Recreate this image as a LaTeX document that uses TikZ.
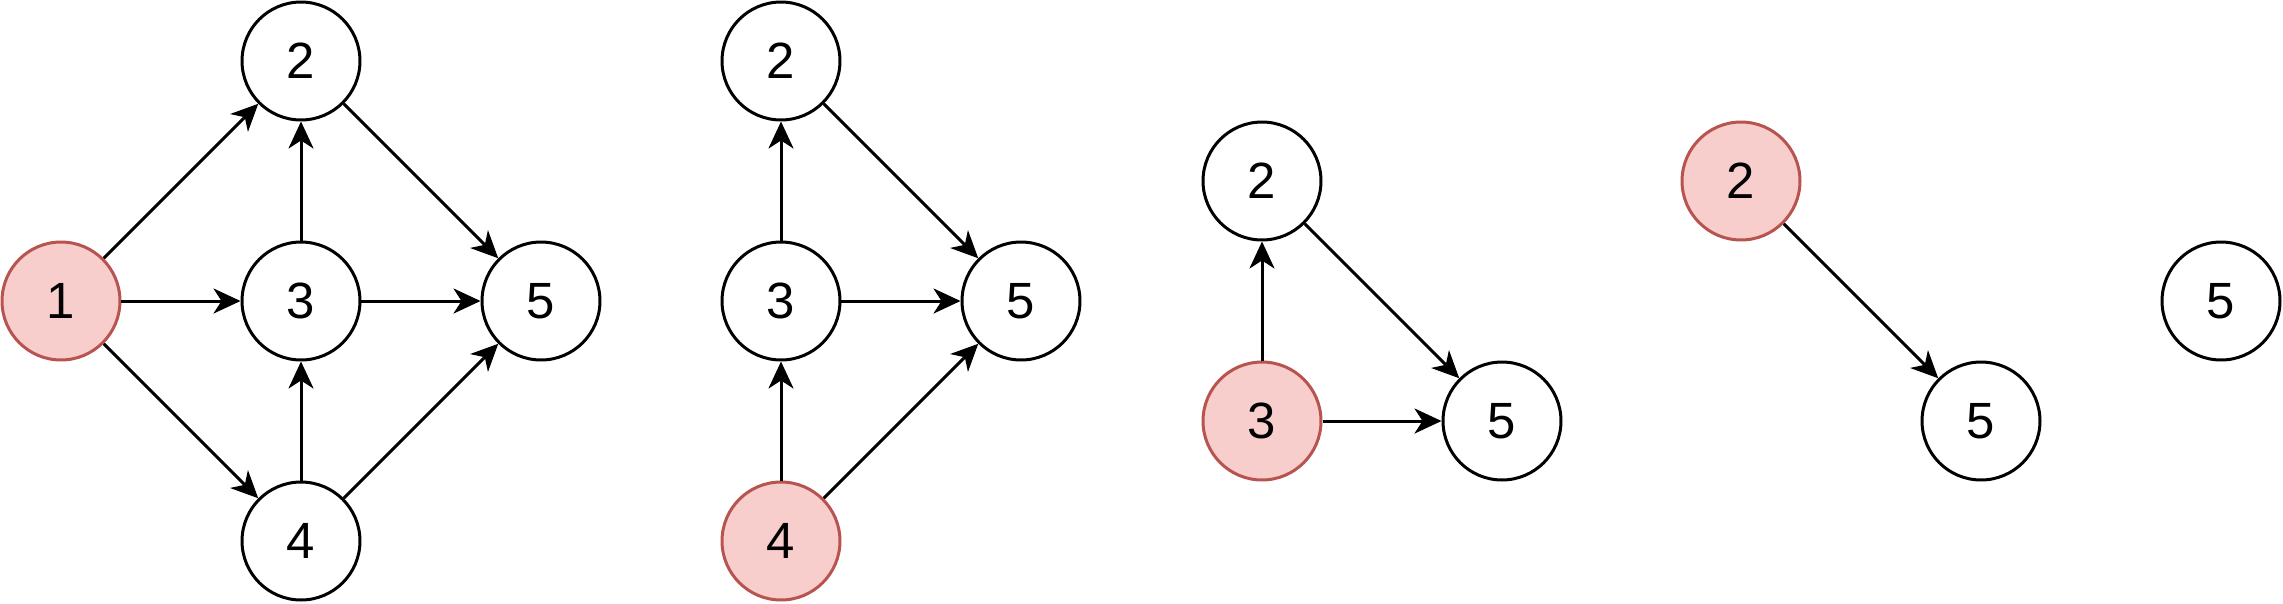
\documentclass[tikz,border=0pt]{standalone}
\usepackage{fontspec}
\setmainfont{Liberation Sans}
\usetikzlibrary{arrows.meta}
\definecolor{redfill}{HTML}{F8CECC}
\definecolor{reddraw}{HTML}{B85450}
\tikzset{
  vert/.style={circle, draw=black, fill=white, line width=0.06cm, minimum size=2.36cm, inner sep=0pt, font=\fontsize{29}{32}\selectfont},
  hot/.style={vert, draw=reddraw, fill=redfill},
  edge/.style={line width=0.06cm, -{Stealth[length=0.54cm, width=0.5cm, inset=0.16cm]}}
}
\begin{document}
\begin{tikzpicture}[x=0.02cm, y=-0.02cm]
\useasboundingbox (0,0) rectangle (2283,603);
% graph A
\node[hot]  (a1) at (61,301) {1};
\node[vert] (a2) at (301,61) {2};
\node[vert] (a3) at (301,301) {3};
\node[vert] (a4) at (301,541) {4};
\node[vert] (a5) at (541,301) {5};
\draw[edge] (a1) -- (a2);
\draw[edge] (a1) -- (a3);
\draw[edge] (a1) -- (a4);
\draw[edge] (a3) -- (a2);
\draw[edge] (a4) -- (a3);
\draw[edge] (a2) -- (a5);
\draw[edge] (a3) -- (a5);
\draw[edge] (a4) -- (a5);
% graph B
\node[vert] (b2) at (781,61) {2};
\node[vert] (b3) at (781,301) {3};
\node[hot]  (b4) at (781,541) {4};
\node[vert] (b5) at (1021,301) {5};
\draw[edge] (b3) -- (b2);
\draw[edge] (b4) -- (b3);
\draw[edge] (b2) -- (b5);
\draw[edge] (b3) -- (b5);
\draw[edge] (b4) -- (b5);
% graph C
\node[vert] (c2) at (1262,181) {2};
\node[hot]  (c3) at (1262,421) {3};
\node[vert] (c5) at (1502,421) {5};
\draw[edge] (c3) -- (c2);
\draw[edge] (c2) -- (c5);
\draw[edge] (c3) -- (c5);
% graph D
\node[hot]  (d2) at (1741,181) {2};
\node[vert] (d5) at (1981,421) {5};
\draw[edge] (d2) -- (d5);
% graph E
\node[vert] (e5) at (2221,301) {5};
\end{tikzpicture}
\end{document}
